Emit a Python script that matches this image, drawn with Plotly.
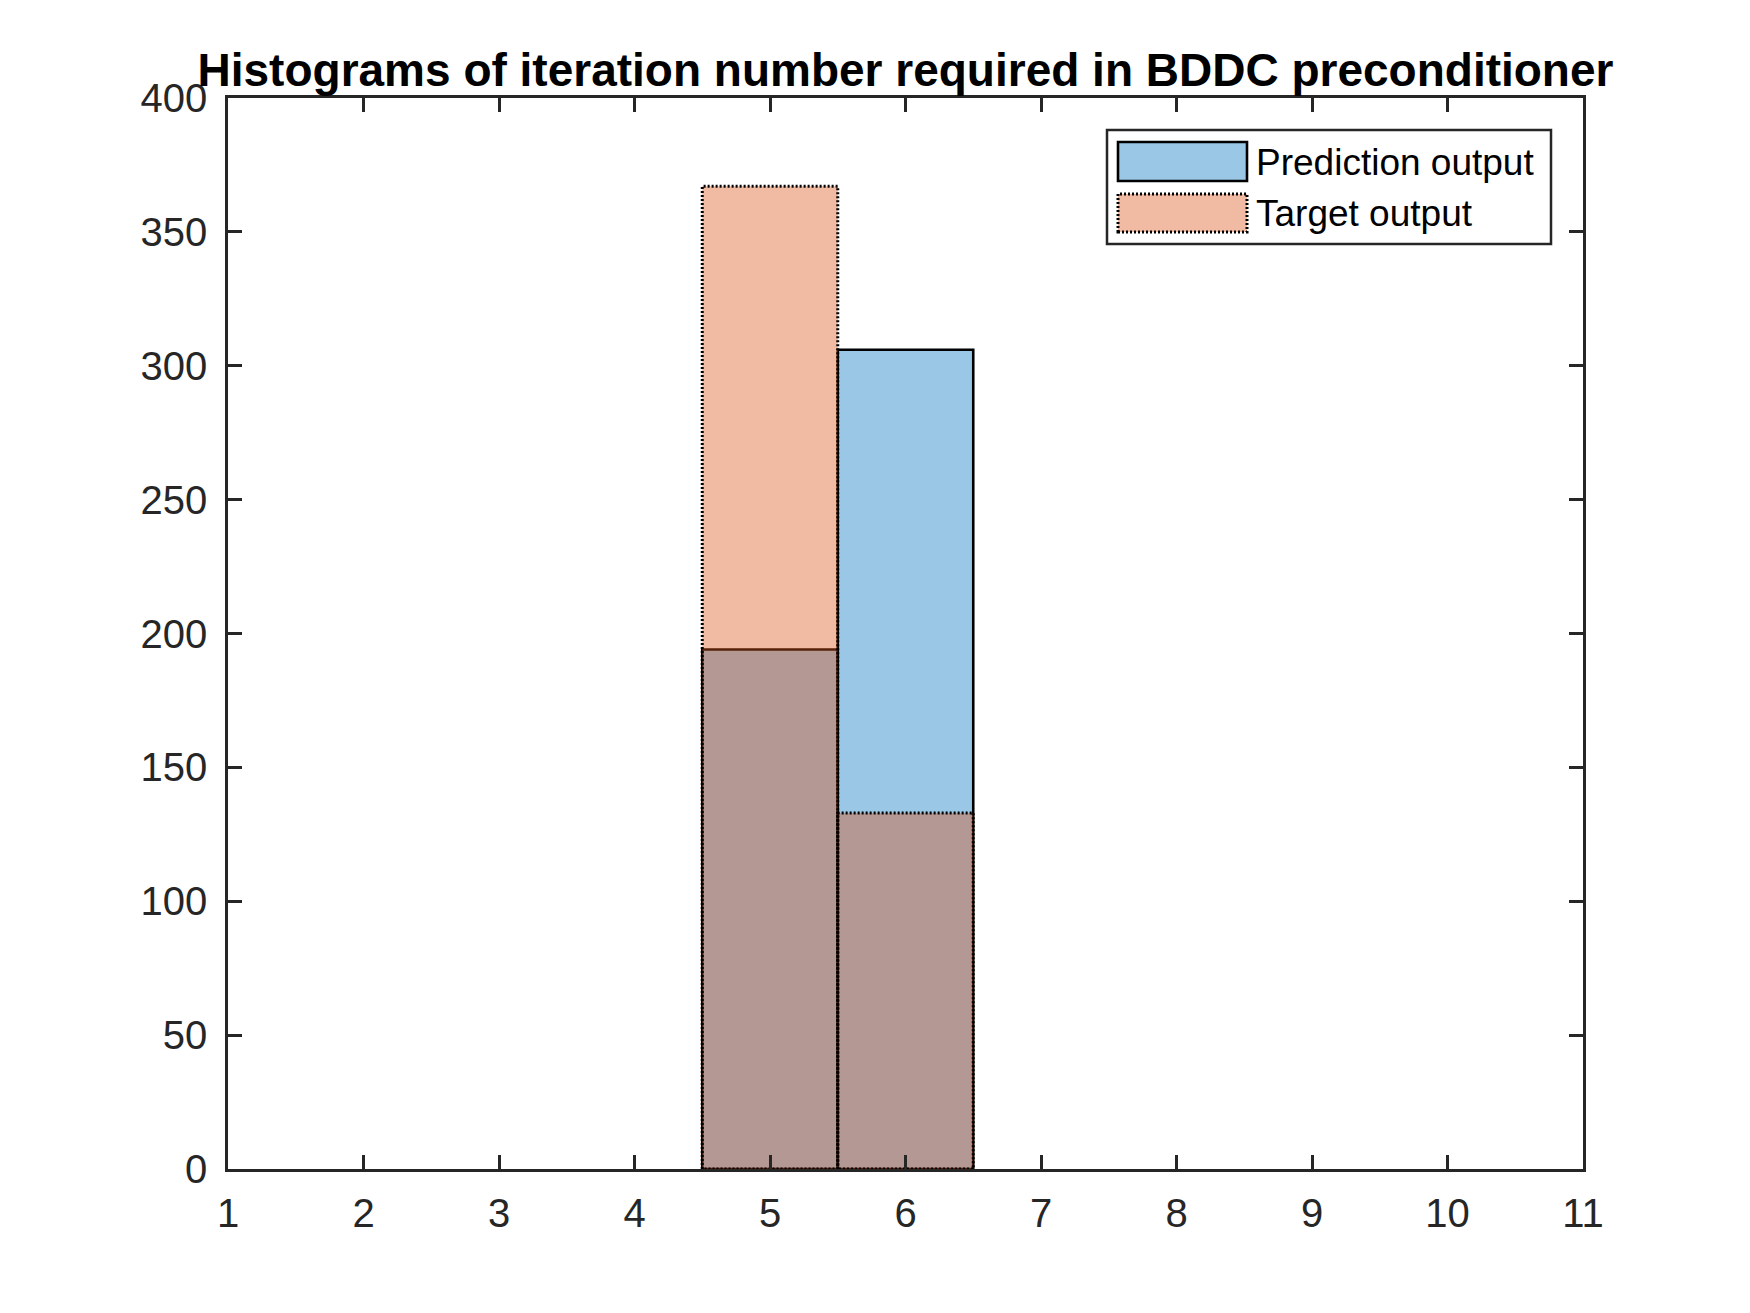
import plotly.graph_objects as go

# histogram data (bin centres, counts)
bin_centers = [5, 6]
bin_width = 1
prediction_counts = [194, 306]
target_counts = [367, 133]

x_ticks = list(range(1, 12))
y_ticks = list(range(0, 401, 50))

title_text = 'Histograms of iteration number required in BDDC preconditioner'
legend_names = ['Prediction output', 'Target output']

W, H = 1750, 1313
ML, MR, MT, MB = 228, 167, 98, 144
FONT = 'Liberation Sans, Arial, Helvetica, sans-serif'
axis_color = '#262626'
blue_fill = 'rgba(0,114,189,0.4)'
orange_fill = 'rgba(217,83,25,0.4)'


def px_x(p):
    # pixel x -> paper fraction
    return (p - ML) / (W - ML - MR)


def px_y(p):
    # pixel y -> paper fraction
    return (H - MB - p) / (H - MT - MB)


def outline(centers, counts, w):
    xs, ys = [], []
    for c, v in zip(centers, counts):
        xs += [c - w / 2, c - w / 2, c + w / 2, c + w / 2, c - w / 2, None]
        ys += [0, v, v, 0, 0, None]
    return xs, ys


fig = go.Figure()

fig.add_trace(go.Bar(
    x=bin_centers, y=prediction_counts, width=bin_width,
    name=legend_names[0],
    marker=dict(color=blue_fill, line=dict(color='black', width=2.6)),
    showlegend=False,
))
fig.add_trace(go.Bar(
    x=bin_centers, y=target_counts, width=bin_width,
    name=legend_names[1],
    marker=dict(color=orange_fill, line=dict(width=0)),
    showlegend=False,
))
ox, oy = outline(bin_centers, target_counts, bin_width)
fig.add_trace(go.Scatter(
    x=ox, y=oy, mode='lines',
    line=dict(color='black', width=3, dash='2px,2px'),
    hoverinfo='skip', showlegend=False,
))

# legend drawn by hand (MATLAB-style boxed legend with big swatches)
shapes = [
    dict(type='rect', xref='paper', yref='paper',
         x0=px_x(1107), x1=px_x(1551), y0=px_y(244), y1=px_y(130),
         fillcolor='white', line=dict(color=axis_color, width=2.5)),
    dict(type='rect', xref='paper', yref='paper',
         x0=px_x(1118), x1=px_x(1247), y0=px_y(181), y1=px_y(142),
         fillcolor=blue_fill, line=dict(color='black', width=2.6)),
    dict(type='rect', xref='paper', yref='paper',
         x0=px_x(1118), x1=px_x(1247), y0=px_y(232), y1=px_y(194),
         fillcolor=orange_fill, line=dict(color='black', width=3, dash='2px,2px')),
]
annotations = [
    dict(text=legend_names[0], xref='paper', yref='paper',
         x=px_x(1254), y=px_y(162), xanchor='left', yanchor='middle',
         showarrow=False, font=dict(family=FONT, size=37, color='black')),
    dict(text=legend_names[1], xref='paper', yref='paper',
         x=px_x(1254), y=px_y(214), xanchor='left', yanchor='middle',
         showarrow=False, font=dict(family=FONT, size=37, color='black')),
]

axis_common = dict(
    showgrid=False, zeroline=False,
    showline=True, linecolor=axis_color, linewidth=2.5, mirror='ticks',
    ticks='inside', ticklen=14, tickwidth=2.5, tickcolor=axis_color,
    tickfont=dict(family=FONT, size=40, color=axis_color),
)

fig.update_layout(
    width=W, height=H,
    margin=dict(l=ML, r=MR, t=MT, b=MB),
    paper_bgcolor='white', plot_bgcolor='white',
    barmode='overlay',
    title=dict(text='<b>' + title_text + '</b>',
               x=0.5, xref='paper', xanchor='center',
               y=1, yref='paper', yanchor='bottom', pad=dict(b=12),
               font=dict(family=FONT, size=46, color='black')),
    xaxis=dict(range=[1, 11], tickvals=x_ticks, ticklabelstandoff=7, **axis_common),
    yaxis=dict(range=[0, 400], tickvals=y_ticks, ticklabelstandoff=10, **axis_common),
    shapes=shapes,
    annotations=annotations,
    showlegend=False,
)

# drop the default body margin so the figure sits at the window origin
fig.write_html("out.html", config={'displayModeBar': False},
               post_script="document.body.style.margin='0';")
